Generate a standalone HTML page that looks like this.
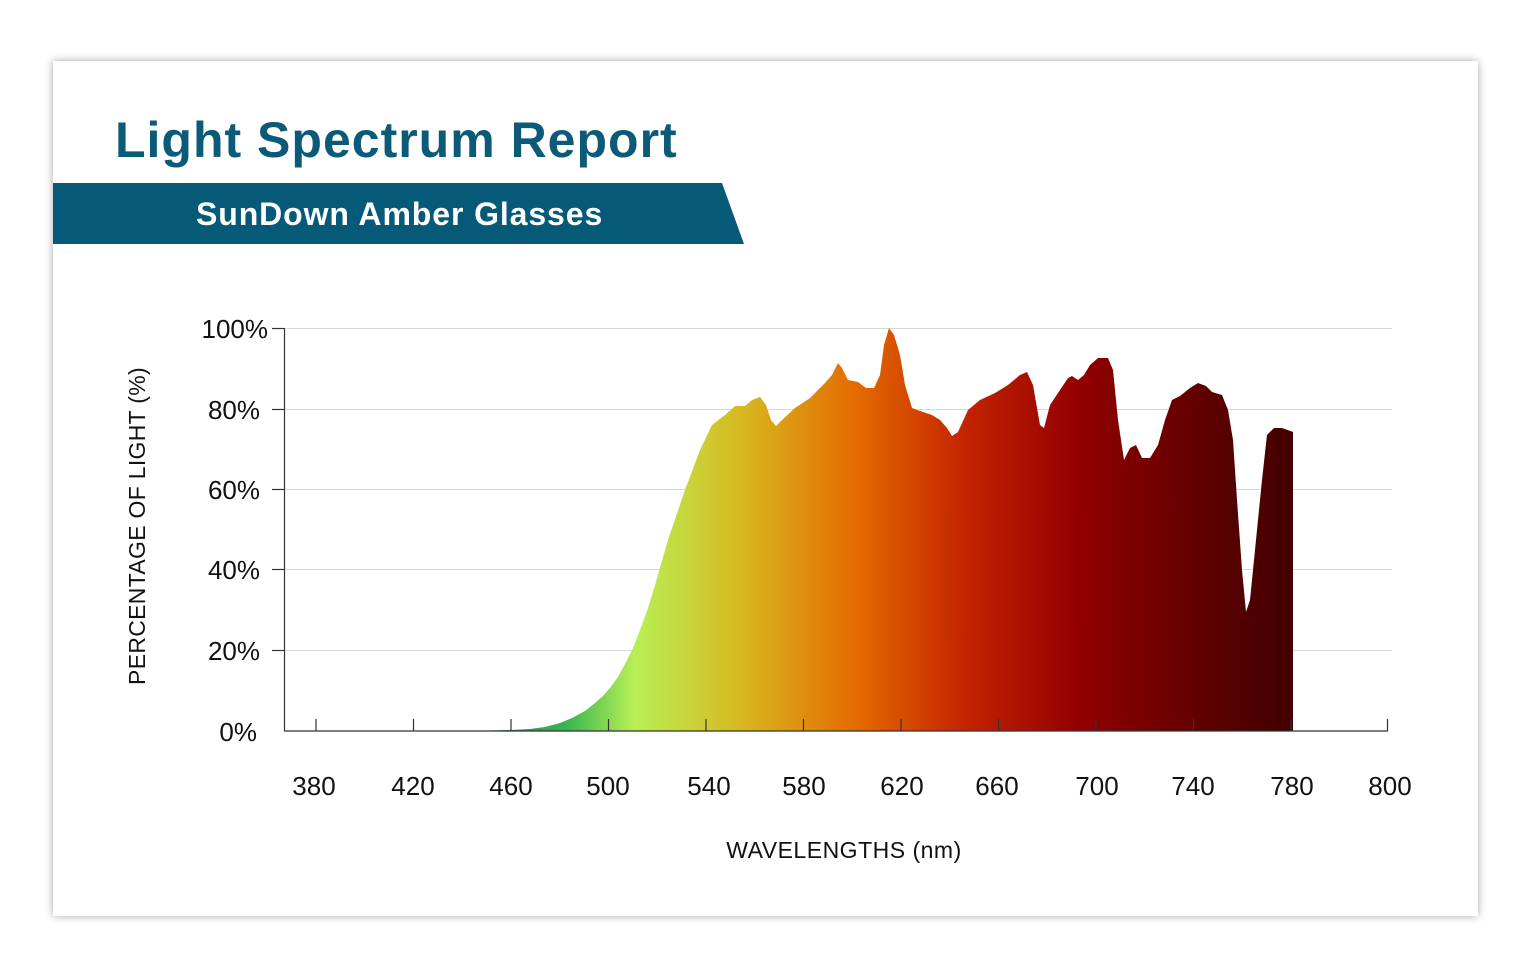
<!DOCTYPE html>
<html><head><meta charset="utf-8"><style>
html,body{margin:0;padding:0;background:#fff;width:1535px;height:975px;overflow:hidden;font-family:"Liberation Sans",sans-serif}
.card{position:absolute;left:53px;top:61px;width:1425px;height:855px;background:#fff;box-shadow:0 0 8px rgba(0,0,0,0.35)}
</style></head><body>
<div class="card"></div>
<svg width="1535" height="975" style="position:absolute;left:0;top:0">
<defs><linearGradient id="g" gradientUnits="userSpaceOnUse" x1="470" y1="0" x2="1293" y2="0">
<stop offset="0" stop-color="#0a7060"/>
<stop offset="0.12" stop-color="#3cb850"/>
<stop offset="0.2" stop-color="#b8f055"/>
<stop offset="0.33" stop-color="#d8b820"/>
<stop offset="0.47" stop-color="#e46a00"/>
<stop offset="0.6" stop-color="#c42400"/>
<stop offset="0.74" stop-color="#920000"/>
<stop offset="0.9" stop-color="#5c0000"/>
<stop offset="1" stop-color="#420000"/>
</linearGradient></defs>
<text x="115" y="157" font-size="50" font-weight="bold" fill="#0a5a78" letter-spacing="1">Light Spectrum Report</text>
<polygon points="53,183 722,183 744,244 53,244" fill="#065a78"/>
<text x="196" y="225" font-size="32" font-weight="bold" fill="#fff" letter-spacing="0.9">SunDown Amber Glasses</text>
<g stroke="#d8d8d8" stroke-width="1">
<line x1="272" y1="328.5" x2="1392" y2="328.5"/><line x1="272" y1="409.5" x2="1392" y2="409.5"/>
<line x1="272" y1="489.5" x2="1392" y2="489.5"/><line x1="272" y1="569.5" x2="1392" y2="569.5"/>
<line x1="272" y1="650.5" x2="1392" y2="650.5"/></g>
<polygon fill="url(#g)" points="472,731 511,730 530,729 545,727 560,723 572,718 585,711 595,703 603,696 610,688 618,677 625,664 633,648 640,630 648,608 655,585 668,540 685,490 700,450 712,425 725,415 735,406 745,406 752,400 760,397 766,405 771,420 776,426 782,420 795,408 810,398 825,383 832,375 838,363 842,368 848,380 858,382 866,388 874,388 880,375 884,345 889,328 894,335 900,355 905,385 912,408 920,411 932,415 940,420 947,428 952,436 958,432 968,410 980,400 995,393 1008,385 1020,375 1027,372 1033,385 1040,425 1044,428 1050,405 1060,390 1068,378 1072,376 1078,380 1084,375 1090,365 1098,358 1108,358 1113,370 1118,420 1124,460 1130,448 1136,445 1142,458 1150,458 1158,445 1165,420 1172,400 1180,396 1190,388 1198,383 1206,386 1212,392 1222,395 1228,410 1233,440 1237,500 1242,570 1246,612 1250,600 1255,550 1262,480 1267,435 1274,428 1282,428 1293,432 1293,731"/>
<g stroke="#333" stroke-width="1.2">
<line x1="284.5" y1="328" x2="284.5" y2="731"/><line x1="284" y1="731" x2="1388" y2="731"/>
<line x1="316" y1="719" x2="316" y2="731"/><line x1="413.5" y1="719" x2="413.5" y2="731"/>
<line x1="511" y1="719" x2="511" y2="731"/><line x1="608.5" y1="719" x2="608.5" y2="731"/>
<line x1="706" y1="719" x2="706" y2="731"/><line x1="803.5" y1="719" x2="803.5" y2="731"/>
<line x1="901" y1="719" x2="901" y2="731"/><line x1="998.5" y1="719" x2="998.5" y2="731"/>
<line x1="1096" y1="719" x2="1096" y2="731"/><line x1="1193.5" y1="719" x2="1193.5" y2="731"/>
<line x1="1291" y1="719" x2="1291" y2="731"/><line x1="1387.5" y1="719" x2="1387.5" y2="731"/>
<line x1="272" y1="328.5" x2="284" y2="328.5"/><line x1="272" y1="409.5" x2="284" y2="409.5"/>
<line x1="272" y1="489.5" x2="284" y2="489.5"/><line x1="272" y1="569.5" x2="284" y2="569.5"/>
<line x1="272" y1="650.5" x2="284" y2="650.5"/></g>
<g font-size="26" fill="#111" text-anchor="end">
<text x="268" y="338">100%</text><text x="260" y="419">80%</text><text x="260" y="499">60%</text>
<text x="260" y="579">40%</text><text x="260" y="660">20%</text><text x="257" y="741">0%</text></g>
<g font-size="26" fill="#111" text-anchor="middle">
<text x="314" y="795">380</text><text x="413" y="795">420</text><text x="511" y="795">460</text>
<text x="608" y="795">500</text><text x="709" y="795">540</text><text x="804" y="795">580</text>
<text x="902" y="795">620</text><text x="997" y="795">660</text><text x="1097" y="795">700</text>
<text x="1193" y="795">740</text><text x="1292" y="795">780</text><text x="1390" y="795">800</text></g>
<text x="844" y="858" font-size="23" fill="#111" text-anchor="middle" letter-spacing="0.5">WAVELENGTHS (nm)</text>
<text transform="translate(145,526) rotate(-90)" font-size="23" fill="#111" text-anchor="middle" letter-spacing="0.3">PERCENTAGE OF LIGHT (%)</text>
</svg>
</body></html>
